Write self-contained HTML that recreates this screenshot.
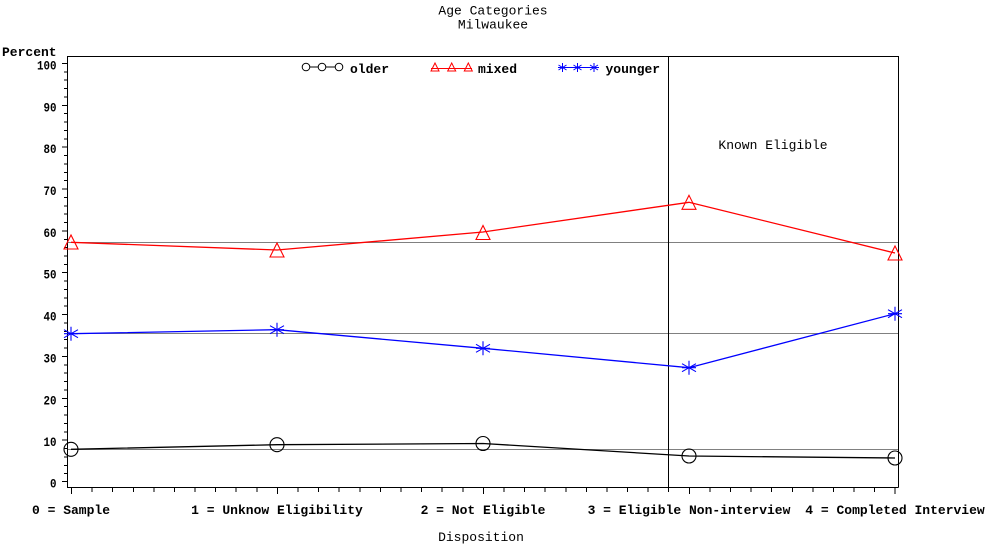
<!DOCTYPE html>
<html>
<head>
<meta charset="utf-8">
<style>
html,body{margin:0;padding:0;background:#fff;}
svg{display:block;}
text{font-family:"Liberation Mono",monospace;}
</style>
</head>
<body>
<svg width="990" height="546" viewBox="0 0 990 546" xmlns="http://www.w3.org/2000/svg">
<rect width="990" height="546" fill="#fff"/>
<!-- titles -->
<text x="493" y="14.5" font-size="13" text-anchor="middle" fill="#000">Age Categories</text>
<text x="493" y="28.5" font-size="13" text-anchor="middle" fill="#000">Milwaukee</text>
<text x="2" y="56" font-size="13" font-weight="bold" fill="#000">Percent</text>

<!-- reference lines -->
<g stroke="#808080" stroke-width="1" shape-rendering="crispEdges">
<line x1="67" y1="242.5" x2="898" y2="242.5"/>
<line x1="67" y1="333.5" x2="898" y2="333.5"/>
<line x1="67" y1="449.5" x2="898" y2="449.5"/>
</g>

<!-- frame -->
<g stroke="#000" stroke-width="1.2" shape-rendering="crispEdges" fill="none">
<line x1="67.5" y1="56.5" x2="898.5" y2="56.5"/>
<line x1="67.5" y1="56" x2="67.5" y2="487.5"/>
<line x1="67" y1="487.5" x2="898.5" y2="487.5"/>
<line x1="898.5" y1="56" x2="898.5" y2="487.5"/>
<line x1="668.5" y1="56" x2="668.5" y2="487.5"/>
</g>

<!-- y ticks -->
<g stroke="#000" stroke-width="1" shape-rendering="crispEdges">
<line x1="62" y1="63.5" x2="67" y2="63.5"/>
<line x1="64" y1="71.9" x2="67" y2="71.9"/><line x1="64" y1="80.2" x2="67" y2="80.2"/><line x1="64" y1="88.6" x2="67" y2="88.6"/><line x1="64" y1="97" x2="67" y2="97"/>
<line x1="62" y1="105.3" x2="67" y2="105.3"/>
<line x1="64" y1="113.7" x2="67" y2="113.7"/><line x1="64" y1="122.1" x2="67" y2="122.1"/><line x1="64" y1="130.5" x2="67" y2="130.5"/><line x1="64" y1="138.8" x2="67" y2="138.8"/>
<line x1="62" y1="147.2" x2="67" y2="147.2"/>
<line x1="64" y1="155.6" x2="67" y2="155.6"/><line x1="64" y1="163.9" x2="67" y2="163.9"/><line x1="64" y1="172.3" x2="67" y2="172.3"/><line x1="64" y1="180.7" x2="67" y2="180.7"/>
<line x1="62" y1="189" x2="67" y2="189"/>
<line x1="64" y1="197.4" x2="67" y2="197.4"/><line x1="64" y1="205.8" x2="67" y2="205.8"/><line x1="64" y1="214.2" x2="67" y2="214.2"/><line x1="64" y1="222.5" x2="67" y2="222.5"/>
<line x1="62" y1="230.9" x2="67" y2="230.9"/>
<line x1="64" y1="239.3" x2="67" y2="239.3"/><line x1="64" y1="247.6" x2="67" y2="247.6"/><line x1="64" y1="256" x2="67" y2="256"/><line x1="64" y1="264.4" x2="67" y2="264.4"/>
<line x1="62" y1="272.7" x2="67" y2="272.7"/>
<line x1="64" y1="281.1" x2="67" y2="281.1"/><line x1="64" y1="289.5" x2="67" y2="289.5"/><line x1="64" y1="297.9" x2="67" y2="297.9"/><line x1="64" y1="306.2" x2="67" y2="306.2"/>
<line x1="62" y1="314.6" x2="67" y2="314.6"/>
<line x1="64" y1="323" x2="67" y2="323"/><line x1="64" y1="331.3" x2="67" y2="331.3"/><line x1="64" y1="339.7" x2="67" y2="339.7"/><line x1="64" y1="348.1" x2="67" y2="348.1"/>
<line x1="62" y1="356.5" x2="67" y2="356.5"/>
<line x1="64" y1="364.8" x2="67" y2="364.8"/><line x1="64" y1="373.2" x2="67" y2="373.2"/><line x1="64" y1="381.6" x2="67" y2="381.6"/><line x1="64" y1="389.9" x2="67" y2="389.9"/>
<line x1="62" y1="398.3" x2="67" y2="398.3"/>
<line x1="64" y1="406.7" x2="67" y2="406.7"/><line x1="64" y1="415" x2="67" y2="415"/><line x1="64" y1="423.4" x2="67" y2="423.4"/><line x1="64" y1="431.8" x2="67" y2="431.8"/>
<line x1="62" y1="440.2" x2="67" y2="440.2"/>
<line x1="64" y1="448.5" x2="67" y2="448.5"/><line x1="64" y1="456.9" x2="67" y2="456.9"/><line x1="64" y1="465.3" x2="67" y2="465.3"/><line x1="64" y1="473.6" x2="67" y2="473.6"/>
<line x1="62" y1="481.5" x2="67" y2="481.5"/>
</g>
<g font-size="13" font-weight="bold" text-anchor="end" fill="#000">
<text x="56.5" y="69.5" textLength="19.5" lengthAdjust="spacingAndGlyphs">100</text>
<text x="56.5" y="111.3" textLength="13" lengthAdjust="spacingAndGlyphs">90</text>
<text x="56.5" y="153.2" textLength="13" lengthAdjust="spacingAndGlyphs">80</text>
<text x="56.5" y="195" textLength="13" lengthAdjust="spacingAndGlyphs">70</text>
<text x="56.5" y="236.9" textLength="13" lengthAdjust="spacingAndGlyphs">60</text>
<text x="56.5" y="278.7" textLength="13" lengthAdjust="spacingAndGlyphs">50</text>
<text x="56.5" y="320.6" textLength="13" lengthAdjust="spacingAndGlyphs">40</text>
<text x="56.5" y="362.5" textLength="13" lengthAdjust="spacingAndGlyphs">30</text>
<text x="56.5" y="404.3" textLength="13" lengthAdjust="spacingAndGlyphs">20</text>
<text x="56.5" y="446.2" textLength="13" lengthAdjust="spacingAndGlyphs">10</text>
<text x="56.5" y="487.7" textLength="6.5" lengthAdjust="spacingAndGlyphs">0</text>
</g>

<!-- x ticks -->
<g stroke="#000" stroke-width="1" shape-rendering="crispEdges">
<line x1="71.5" y1="487" x2="71.5" y2="494"/>
<line x1="92.1" y1="487" x2="92.1" y2="492"/><line x1="112.7" y1="487" x2="112.7" y2="492"/><line x1="133.3" y1="487" x2="133.3" y2="492"/><line x1="153.9" y1="487" x2="153.9" y2="492"/><line x1="174.5" y1="487" x2="174.5" y2="492"/><line x1="195.1" y1="487" x2="195.1" y2="492"/><line x1="215.6" y1="487" x2="215.6" y2="492"/><line x1="236.2" y1="487" x2="236.2" y2="492"/><line x1="256.8" y1="487" x2="256.8" y2="492"/>
<line x1="277.4" y1="487" x2="277.4" y2="494"/>
<line x1="298" y1="487" x2="298" y2="492"/><line x1="318.6" y1="487" x2="318.6" y2="492"/><line x1="339.2" y1="487" x2="339.2" y2="492"/><line x1="359.8" y1="487" x2="359.8" y2="492"/><line x1="380.4" y1="487" x2="380.4" y2="492"/><line x1="401" y1="487" x2="401" y2="492"/><line x1="421.6" y1="487" x2="421.6" y2="492"/><line x1="442.2" y1="487" x2="442.2" y2="492"/><line x1="462.8" y1="487" x2="462.8" y2="492"/>
<line x1="483.4" y1="487" x2="483.4" y2="494"/>
<line x1="504" y1="487" x2="504" y2="492"/><line x1="524.6" y1="487" x2="524.6" y2="492"/><line x1="545.2" y1="487" x2="545.2" y2="492"/><line x1="565.8" y1="487" x2="565.8" y2="492"/><line x1="586.4" y1="487" x2="586.4" y2="492"/><line x1="607" y1="487" x2="607" y2="492"/><line x1="627.6" y1="487" x2="627.6" y2="492"/><line x1="648.2" y1="487" x2="648.2" y2="492"/><line x1="668.5" y1="487" x2="668.5" y2="492"/>
<line x1="689.3" y1="487" x2="689.3" y2="494"/>
<line x1="709.9" y1="487" x2="709.9" y2="492"/><line x1="730.5" y1="487" x2="730.5" y2="492"/><line x1="751.1" y1="487" x2="751.1" y2="492"/><line x1="771.7" y1="487" x2="771.7" y2="492"/><line x1="792.3" y1="487" x2="792.3" y2="492"/><line x1="812.9" y1="487" x2="812.9" y2="492"/><line x1="833.5" y1="487" x2="833.5" y2="492"/><line x1="854.1" y1="487" x2="854.1" y2="492"/><line x1="874.7" y1="487" x2="874.7" y2="492"/>
<line x1="894.8" y1="487" x2="894.8" y2="494"/>
</g>
<g font-size="13" font-weight="bold" text-anchor="middle" fill="#000">
<text x="71" y="514">0 = Sample</text>
<text x="277" y="514">1 = Unknow Eligibility</text>
<text x="483" y="514">2 = Not Eligible</text>
<text x="689" y="514">3 = Eligible Non-interview</text>
<text x="895" y="514">4 = Completed Interview</text>
</g>
<text x="481" y="541" font-size="13" text-anchor="middle" fill="#000">Disposition</text>
<text x="773" y="149" font-size="13" text-anchor="middle" fill="#000">Known Eligible</text>

<!-- series lines -->
<polyline points="71,449.3 277,444.7 483,443.5 689,456 895,458" fill="none" stroke="#000" stroke-width="1.3"/>
<polyline points="71,242.3 277,250 483,232 689,202.3 895,253" fill="none" stroke="#ff0000" stroke-width="1.3"/>
<polyline points="71,333.7 277,329.7 483,348.3 689,367.7 895,313.7" fill="none" stroke="#0000ff" stroke-width="1.3"/>

<!-- older markers -->
<g fill="none" stroke="#000" stroke-width="1.1">
<circle cx="71" cy="449.3" r="7"/>
<circle cx="277" cy="444.7" r="7"/>
<circle cx="483" cy="443.5" r="7"/>
<circle cx="689" cy="456" r="7"/>
<circle cx="895" cy="458" r="7"/>
</g>
<!-- mixed markers -->
<g fill="none" stroke="#ff0000" stroke-width="1.1">
<polygon points="71,235 64,249 78,249"/>
<polygon points="277,243 270,257 284,257"/>
<polygon points="483,225.5 476,239.5 490,239.5"/>
<polygon points="689,195.3 682,209.3 696,209.3"/>
<polygon points="895,246 888,260 902,260"/>
</g>
<!-- younger markers -->
<g stroke="#0000ff" stroke-width="1.1" fill="none">
<path d="M71,326.7v14M64,333.7h14M64,329.7l14,8M64,337.7l14,-8"/>
<path d="M277,322.7v14M270,329.7h14M270,325.7l14,8M270,333.7l14,-8"/>
<path d="M483,341.3v14M476,348.3h14M476,344.3l14,8M476,352.3l14,-8"/>
<path d="M689,360.7v14M682,367.7h14M682,363.7l14,8M682,371.7l14,-8"/>
<path d="M895,306.7v14M888,313.7h14M888,309.7l14,8M888,317.7l14,-8"/>
</g>

<!-- legend -->
<g>
<line x1="302" y1="67" x2="343" y2="67" stroke="#000" stroke-width="1"/>
<g fill="#fff" stroke="#000" stroke-width="1">
<circle cx="306" cy="67" r="3.8"/>
<circle cx="322" cy="67" r="3.8"/>
<circle cx="339" cy="67" r="3.8"/>
</g>
<text x="350" y="73" font-size="13" font-weight="bold" fill="#000">older</text>

<line x1="431" y1="68.5" x2="472" y2="68.5" stroke="#ff0000" stroke-width="1"/>
<g fill="none" stroke="#ff0000" stroke-width="1">
<polygon points="435,63 431,71 439,71"/>
<polygon points="451.7,63 447.7,71 455.7,71"/>
<polygon points="468.3,63 464.3,71 472.3,71"/>
</g>
<text x="478" y="73" font-size="13" font-weight="bold" fill="#000">mixed</text>

<line x1="558" y1="67.5" x2="599" y2="67.5" stroke="#0000ff" stroke-width="1"/>
<g stroke="#0000ff" stroke-width="1" fill="none">
<path d="M562.5,63v9M558.5,65l8,5M558.5,70l8,-5"/>
<path d="M577.5,63v9M573.5,65l8,5M573.5,70l8,-5"/>
<path d="M594,63v9M590,65l8,5M590,70l8,-5"/>
</g>
<text x="605.5" y="73" font-size="13" font-weight="bold" fill="#000">younger</text>
</g>
</svg>
</body>
</html>
